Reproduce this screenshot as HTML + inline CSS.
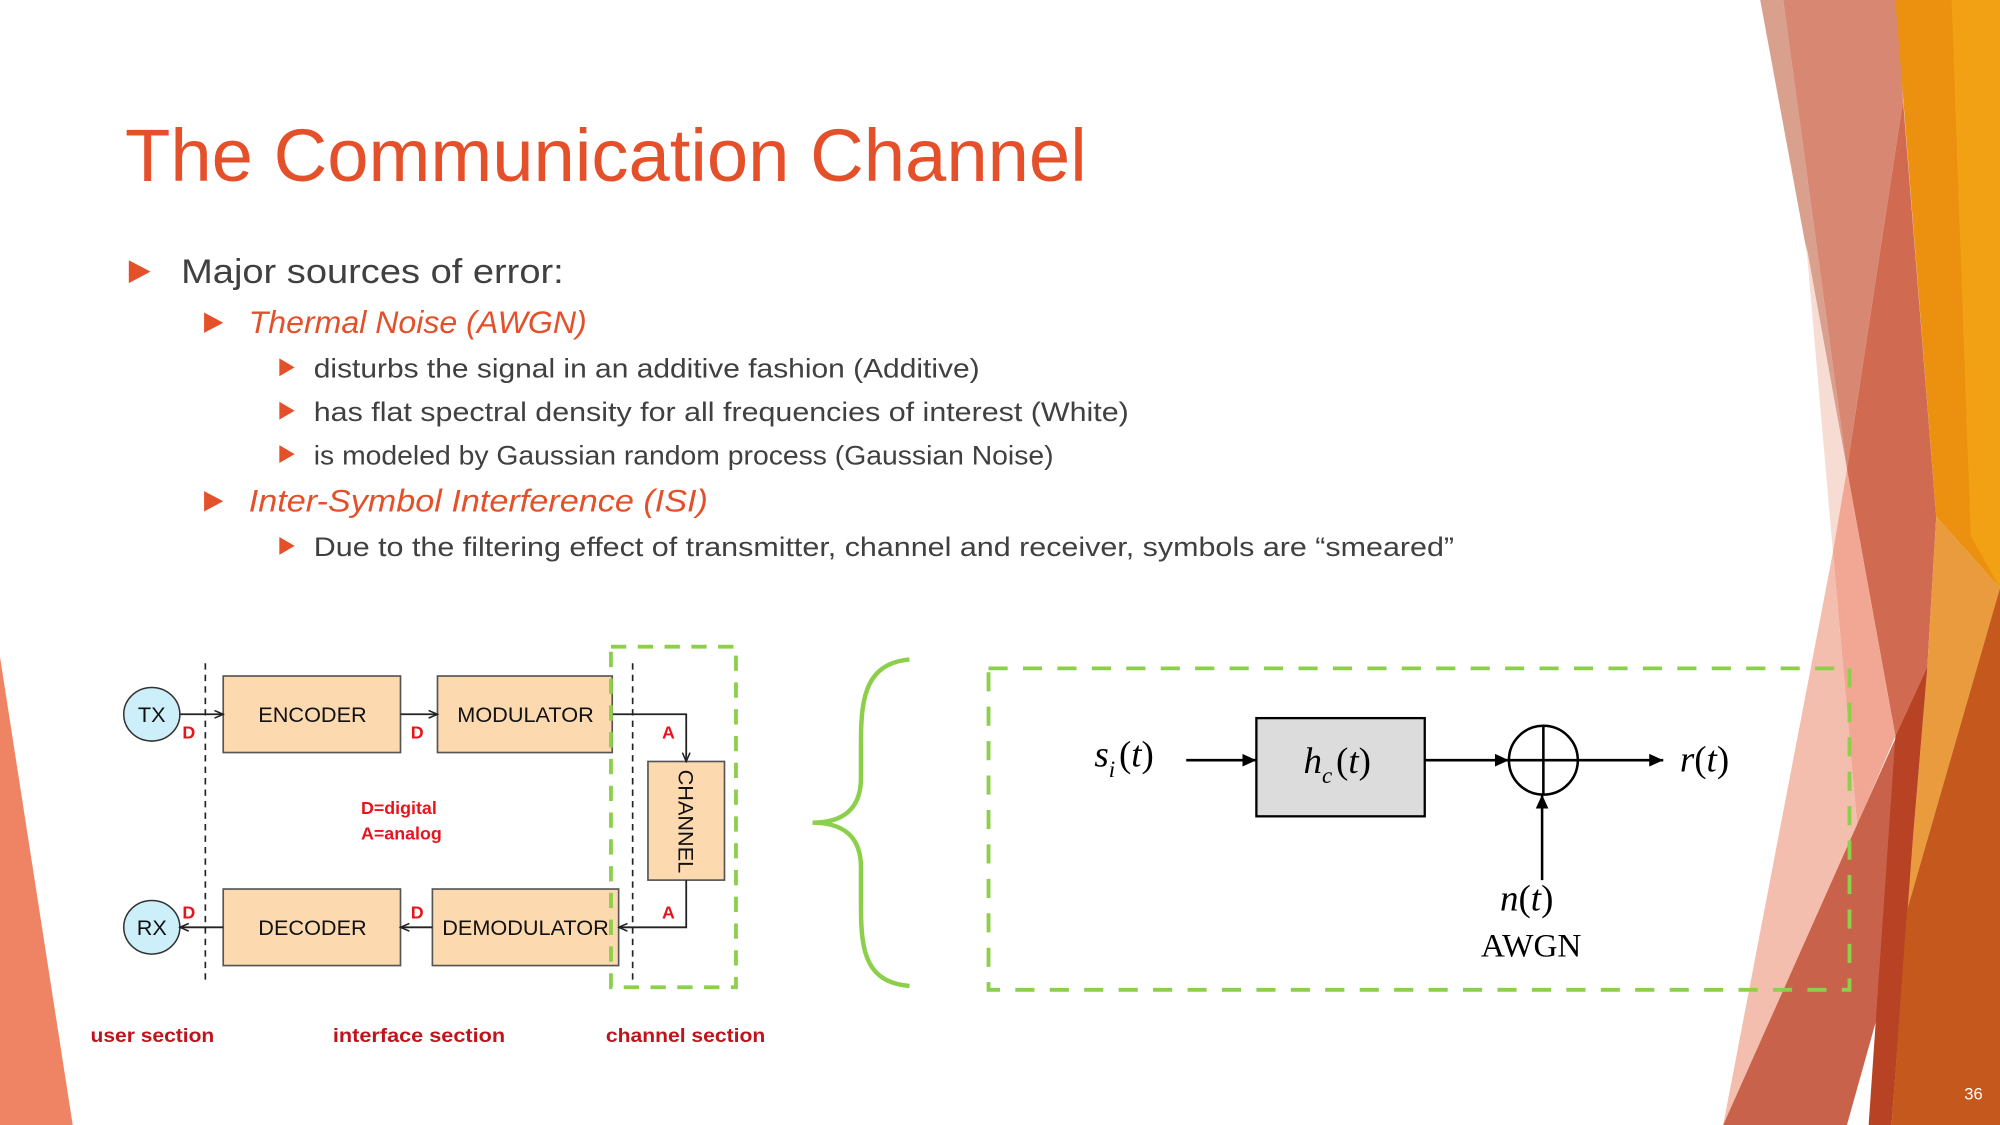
<!DOCTYPE html>
<html><head><meta charset="utf-8"><style>
html,body{margin:0;padding:0;background:#fff;width:2000px;height:1125px;overflow:hidden}
svg{display:block}
</style></head><body>
<svg width="2000" height="1125" viewBox="0 0 1568 882" xmlns="http://www.w3.org/2000/svg">
<defs>
<marker id="ah" markerWidth="8" markerHeight="8" refX="7" refY="4" orient="auto" markerUnits="userSpaceOnUse"><path d="M0,1 L7,4 L0,7" fill="none" stroke="#222" stroke-width="1.2"/></marker>
<marker id="ab" markerWidth="12" markerHeight="10" refX="11" refY="5" orient="auto" markerUnits="userSpaceOnUse"><path d="M0,0 L11,5 L0,10 Z" fill="#000"/></marker>
</defs>
<polygon points="0,515 57,882 0,882" fill="#EE8464"/>
<polygon points="1380,0 1398,0 1448,368" fill="#D9A08E"/>
<polygon points="1398,0 1488,0 1492,79 1448,368" fill="#D88872"/>
<polygon points="1492,79 1518,405 1511,523 1486,577 1448,368" fill="#D06B51"/>
<polygon points="1486,0 1568,0 1568,461 1518,405" fill="#EC9010"/>
<polygon points="1530,0 1568,0 1568,461 1545,420" fill="#F2A014"/>
<polygon points="1518,405 1568,461 1495,714 1511,523" fill="#E99B3E"/>
<polygon points="1416,191 1448,368 1437,433" fill="#F7DCD4"/>
<polygon points="1448,368 1486,577 1456,647 1437,433" fill="#F2A694"/>
<polygon points="1437,433 1456,647 1378,822 1366,882 1351,882" fill="#F4BEAE"/>
<polygon points="1351,882 1511,523 1495,714 1448,882" fill="#C8624A"/>
<polygon points="1486,577 1511,523 1500,653 1483,882 1465,882" fill="#B84224"/>
<polygon points="1495,714 1568,461 1568,882 1483,882" fill="#C5581C"/>
<text x="1540" y="862" font-family="Liberation Sans, sans-serif" font-size="13" fill="#fff">36</text>

<text x="98" y="142" font-family="Liberation Sans, sans-serif" font-size="58" fill="#E4502A" textLength="754" lengthAdjust="spacingAndGlyphs">The Communication Channel</text>

<g fill="#E4502A">
<polygon points="101,204 118,213 101,222"/>
<polygon points="160,245 175,253 160,261"/>
<polygon points="219,281 231,288 219,295"/>
<polygon points="219,315 231,322 219,329"/>
<polygon points="219,349 231,356 219,363"/>
<polygon points="160,385 175,393 160,401"/>
<polygon points="219,421 231,428 219,435"/>
</g>
<g font-family="Liberation Sans, sans-serif">
<text x="142" y="222" font-size="27" fill="#404040" textLength="300" lengthAdjust="spacingAndGlyphs">Major sources of error:</text>
<text x="195" y="261" font-size="25" fill="#E4502A" font-style="italic" textLength="265" lengthAdjust="spacingAndGlyphs">Thermal Noise (AWGN)</text>
<text x="246" y="296" font-size="21" fill="#404040" textLength="522" lengthAdjust="spacingAndGlyphs">disturbs the signal in an additive fashion (Additive)</text>
<text x="246" y="330" font-size="21" fill="#404040" textLength="639" lengthAdjust="spacingAndGlyphs">has flat spectral density for all frequencies of interest (White)</text>
<text x="246" y="364" font-size="21" fill="#404040" textLength="580" lengthAdjust="spacingAndGlyphs">is modeled by Gaussian random process (Gaussian Noise)</text>
<text x="195" y="401" font-size="25" fill="#E4502A" font-style="italic" textLength="360" lengthAdjust="spacingAndGlyphs">Inter-Symbol Interference (ISI)</text>
<text x="246" y="436" font-size="21" fill="#404040" textLength="894" lengthAdjust="spacingAndGlyphs">Due to the filtering effect of transmitter, channel and receiver, symbols are “smeared”</text>
</g>

<g stroke="#222" stroke-width="1.3" stroke-dasharray="5,4">
<line x1="161" y1="520" x2="161" y2="770"/>
<line x1="496" y1="520" x2="496" y2="772"/>
</g>
<g fill="#FDD9B0" stroke="#555" stroke-width="1.3">
<rect x="175" y="530" width="139" height="60"/>
<rect x="343" y="530" width="137" height="60"/>
<rect x="175" y="697" width="139" height="60"/>
<rect x="339" y="697" width="146" height="60"/>
<rect x="508" y="597" width="60" height="93"/>
</g>
<ellipse cx="119" cy="560" rx="22" ry="21" fill="#CDEFFA" stroke="#333" stroke-width="1.2"/>
<ellipse cx="119" cy="727" rx="22" ry="21" fill="#CDEFFA" stroke="#333" stroke-width="1.2"/>
<g stroke="#222" stroke-width="1.4" fill="none">
<line x1="141" y1="560" x2="175" y2="560" marker-end="url(#ah)"/>
<line x1="314" y1="560" x2="343" y2="560" marker-end="url(#ah)"/>
<polyline points="480,560 538,560 538,597" marker-end="url(#ah)"/>
<polyline points="538,690 538,727 485,727" marker-end="url(#ah)"/>
<line x1="339" y1="727" x2="314" y2="727" marker-end="url(#ah)"/>
<line x1="175" y1="727" x2="141" y2="727" marker-end="url(#ah)"/>
</g>
<g font-family="Liberation Sans, sans-serif" font-size="17" fill="#111" text-anchor="middle">
<text x="119" y="566">TX</text>
<text x="119" y="733">RX</text>
<text x="245" y="566">ENCODER</text>
<text x="412" y="566">MODULATOR</text>
<text x="245" y="733">DECODER</text>
<text x="412" y="733">DEMODULATOR</text>
<text transform="translate(532,644) rotate(90)" y="0">CHANNEL</text>
</g>
<rect x="479" y="507" width="98" height="267" fill="none" stroke="#8BCF4A" stroke-width="3" stroke-dasharray="12,9"/>
<g font-family="Liberation Sans, sans-serif" font-size="14" font-weight="bold" fill="#E8141C">
<text x="143" y="579">D</text>
<text x="322" y="579">D</text>
<text x="143" y="720">D</text>
<text x="322" y="720">D</text>
<text x="519" y="579">A</text>
<text x="519" y="720">A</text>
<text x="283" y="638">D=digital</text>
<text x="283" y="658">A=analog</text>
</g>
<g font-family="Liberation Sans, sans-serif" font-size="15" font-weight="bold" fill="#C0141C">
<text x="71" y="817" textLength="97" lengthAdjust="spacingAndGlyphs">user section</text>
<text x="261" y="817" textLength="135" lengthAdjust="spacingAndGlyphs">interface section</text>
<text x="475" y="817" textLength="125" lengthAdjust="spacingAndGlyphs">channel section</text>
</g>

<path d="M713,517 C680,520 675,545 675,580 L675,610 C675,635 660,645 637,645 C660,645 675,655 675,680 L675,712 C675,748 680,770 713,773" fill="none" stroke="#8BCF4A" stroke-width="3.5"/>

<rect x="775" y="524" width="675" height="252" fill="none" stroke="#8BCF4A" stroke-width="3" stroke-dasharray="15,12"/>
<rect x="985" y="563" width="132" height="77" fill="#DCDCDC" stroke="#000" stroke-width="1.8"/>
<circle cx="1210" cy="596" r="27" fill="none" stroke="#000" stroke-width="2"/>
<line x1="1183" y1="596" x2="1237" y2="596" stroke="#000" stroke-width="2"/>
<line x1="1210" y1="569" x2="1210" y2="623" stroke="#000" stroke-width="2"/>
<g stroke="#000" stroke-width="2">
<line x1="930" y1="596" x2="985" y2="596" marker-end="url(#ab)"/>
<line x1="1117" y1="596" x2="1183" y2="596" marker-end="url(#ab)"/>
<line x1="1237" y1="596" x2="1304" y2="596" marker-end="url(#ab)"/>
<line x1="1209" y1="690" x2="1209" y2="623" marker-end="url(#ab)"/>
</g>
<g font-family="Liberation Serif, serif" font-size="29" fill="#000">
<text x="858" y="601"><tspan font-style="italic">s</tspan><tspan font-style="italic" font-size="18" dy="8">i</tspan><tspan dy="-8" dx="3">(</tspan><tspan font-style="italic">t</tspan>)</text>
<text x="1022" y="606"><tspan font-style="italic">h</tspan><tspan font-style="italic" font-size="18" dy="8">c</tspan><tspan dy="-8" dx="3">(</tspan><tspan font-style="italic">t</tspan>)</text>
<text x="1317" y="605"><tspan font-style="italic">r</tspan>(<tspan font-style="italic">t</tspan>)</text>
<text x="1176" y="714"><tspan font-style="italic">n</tspan>(<tspan font-style="italic">t</tspan>)</text>
<text x="1161" y="750" font-size="26">AWGN</text>
</g>
</svg>
</body></html>
